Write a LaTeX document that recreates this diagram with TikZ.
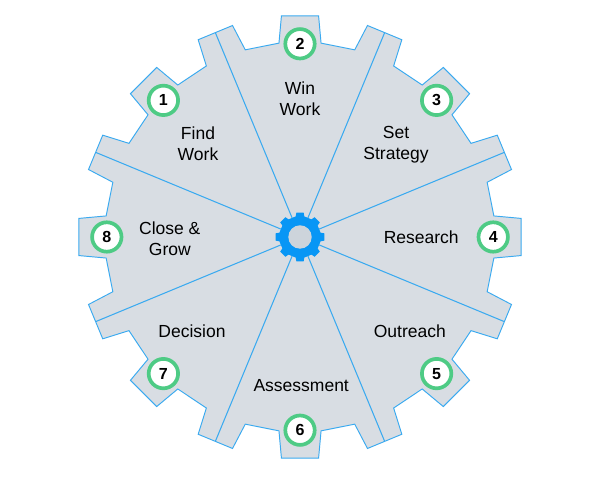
\documentclass[tikz,border=0pt]{standalone}
\usepackage{fontspec}
\setmainfont{Liberation Sans}
\definecolor{gearfill}{RGB}{216,221,227}
\definecolor{gearline}{RGB}{58,170,240}
\definecolor{hubblue}{RGB}{8,150,245}
\definecolor{holegray}{RGB}{205,212,219}
\definecolor{ringgreen}{RGB}{78,203,133}
\tikzset{
  rim/.style={draw=gearline, fill=gearfill, line width=0.45pt},
  spoke/.style={gearline, line width=0.5pt},
  badge/.style={circle, draw=ringgreen, fill=white, line width=1.75pt,
                minimum size=0.49cm, inner sep=0pt, font=\fontsize{7.6}{9}\selectfont\bfseries},
  lbl/.style={align=center, font=\fontsize{8.3}{10}\selectfont},
  hub/.style={circle, fill=holegray, minimum size=0.39cm, inner sep=0pt},
}
\begin{document}
\begin{tikzpicture}
  \useasboundingbox (-5,-4) rectangle (5,3.95);
  % big gear
  \draw[rim] (-6.2:3.25) \foreach \a in {0,22.5,...,337.5} {
      -- (\a-6.2:3.25) -- (\a-4.8:3.7) -- (\a+4.8:3.7) -- (\a+6.2:3.25)
    } -- cycle;
  % spokes
  \coordinate (center) at (0,0);
  \foreach \a [count=\k] in {22.5,67.5,...,337.5} {
    \coordinate (rim\k) at (\a:3.68);
    \draw[spoke] (center) -- (rim\k);
  }
  % small gear
  \fill[hubblue] (-12:0.35) \foreach \a in {0,45,...,315} {
      -- (\a-12:0.35) -- (\a-8.5:0.41) -- (\a+8.5:0.41) -- (\a+12:0.35)
    } -- cycle;
  \node[hub] (hole) at (0,0) {};
  % badges
  \foreach \n/\a in {1/135,2/90,3/45,4/0,5/-45,6/-90,7/-135,8/180}
    \node[badge] (badge\n) at (\a:3.22) {\n};
  % labels
  \node[lbl] (find) at (-1.7,1.56) {Find\\Work};
  \node[lbl] (win) at (0,2.31) {Win\\Work};
  \node[lbl] (set) at (1.6,1.54) {Set\\Strategy};
  \node[lbl] (research) at (2.02,0) {Research};
  \node[lbl] (outreach) at (1.83,-1.57) {Outreach};
  \node[lbl] (assess) at (0.02,-2.47) {Assessment};
  \node[lbl] (decision) at (-1.8,-1.57) {Decision};
  \node[lbl] (close) at (-2.17,-0.03) {Close \&\\Grow};
\end{tikzpicture}
\end{document}
